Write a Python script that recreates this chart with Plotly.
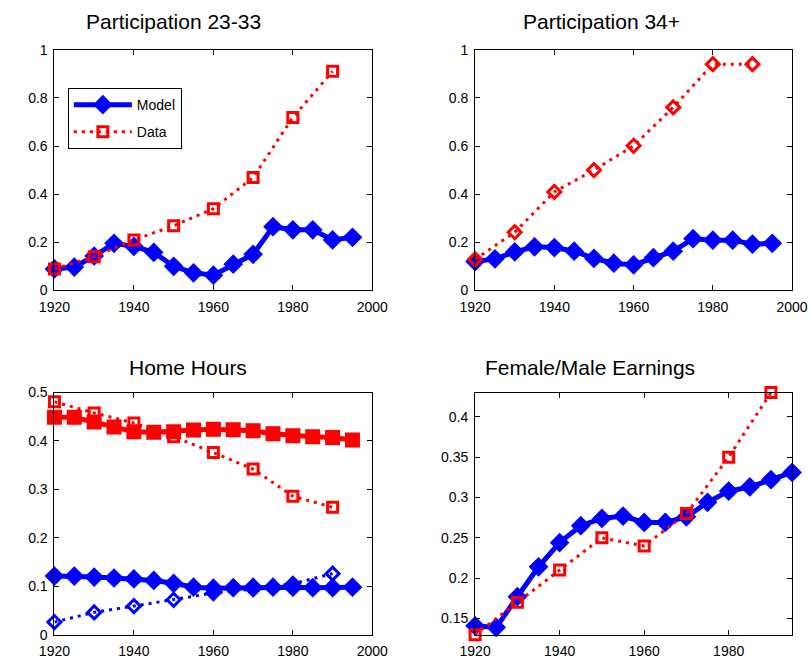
import plotly.graph_objects as go

# ---- data -------------------------------------------------------------
model_years = [1920, 1925, 1930, 1935, 1940, 1945, 1950, 1955,
               1960, 1965, 1970, 1975, 1980, 1985, 1990, 1995]
data_years = [1920, 1930, 1940, 1950, 1960, 1970, 1980, 1990]

# Participation 23-33
part_young_model = [0.088, 0.096, 0.142, 0.195, 0.182, 0.157, 0.099, 0.072,
                    0.062, 0.108, 0.149, 0.264, 0.251, 0.251, 0.209, 0.220]
part_young_data = [0.088, 0.139, 0.209, 0.268, 0.339, 0.469, 0.719, 0.911]

# Participation 34+
part_old_model = [0.119, 0.130, 0.159, 0.180, 0.177, 0.162, 0.132, 0.112,
                  0.105, 0.135, 0.162, 0.214, 0.208, 0.208, 0.191, 0.195]
part_old_data = [0.128, 0.241, 0.409, 0.500, 0.601, 0.761, 0.941, 0.941]

# Home hours (female = red, male = blue)
home_female_model = [0.449, 0.449, 0.439, 0.429, 0.419, 0.418, 0.419, 0.4225,
                     0.424, 0.423, 0.421, 0.415, 0.411, 0.409, 0.407, 0.402]
home_female_data = [0.481, 0.458, 0.437, 0.409, 0.376, 0.342, 0.286, 0.263]
home_male_model = [0.121, 0.121, 0.119, 0.117, 0.115, 0.112, 0.106, 0.098,
                   0.096, 0.097, 0.098, 0.098, 0.098, 0.097, 0.097, 0.098]
home_male_data = [0.026, 0.046, 0.059, 0.072, 0.086, 0.094, 0.105, 0.126]

# Female/Male earnings
earn_model = [0.141, 0.139, 0.177, 0.214, 0.244, 0.265, 0.274, 0.277,
              0.269, 0.269, 0.276, 0.294, 0.308, 0.313, 0.322, 0.331]
earn_data = [0.13, 0.17, 0.21, 0.25, 0.24, 0.28, 0.35, 0.43]

year_ticks = [1920, 1940, 1960, 1980, 2000]

# ---- styling ----------------------------------------------------------
FONT = "Liberation Sans Narrow, Liberation Sans, Arial, sans-serif"
BLUE = "#0000ff"
RED = "#ff0000"
DOT = "3px,5px"


def model_trace(x, y, color, symbol, xa, ya, show=False, name="Model"):
    return go.Scatter(
        x=x, y=y, mode="lines+markers", name=name, showlegend=show,
        legendgroup=name,
        line=dict(color=color, width=5),
        marker=dict(symbol=symbol, size=13, color=color,
                    line=dict(color=color, width=2)),
        xaxis=xa, yaxis=ya, cliponaxis=False,
    )


def data_trace(x, y, color, symbol, xa, ya, show=False, name="Data"):
    return go.Scatter(
        x=x, y=y, mode="lines+markers", name=name, showlegend=show,
        legendgroup=name,
        line=dict(color=color, width=3, dash=DOT),
        marker=dict(symbol=symbol, size=10, color=color,
                    line=dict(color=color, width=3)),
        xaxis=xa, yaxis=ya, cliponaxis=False,
    )


fig = go.Figure()

# Participation 23-33
fig.add_trace(model_trace(model_years, part_young_model, BLUE, "diamond",
                          "x", "y", show=True))
fig.add_trace(data_trace(data_years, part_young_data, RED, "square-open",
                         "x", "y", show=True))

# Participation 34+
fig.add_trace(model_trace(model_years, part_old_model, BLUE, "diamond", "x2", "y2"))
fig.add_trace(data_trace(data_years, part_old_data, RED, "diamond-open", "x2", "y2"))

# Home hours
fig.add_trace(data_trace(data_years, home_male_data, BLUE, "diamond-open", "x3", "y3"))
fig.add_trace(data_trace(data_years, home_female_data, RED, "square-open", "x3", "y3"))
fig.add_trace(model_trace(model_years, home_female_model, RED, "square", "x3", "y3"))
fig.add_trace(model_trace(model_years, home_male_model, BLUE, "diamond", "x3", "y3"))

# Female/Male earnings
fig.add_trace(model_trace(model_years, earn_model, BLUE, "diamond", "x4", "y4"))
fig.add_trace(data_trace(data_years, earn_data, RED, "square-open", "x4", "y4"))

W, H = 810, 669


def xdom(left, right):
    return [left / W, right / W]


def ydom(top, bottom):
    return [1 - bottom / H, 1 - top / H]


axis_common = dict(
    showline=True, linecolor="black", linewidth=1, mirror="ticks",
    ticks="inside", ticklen=5, tickcolor="black", tickwidth=1,
    showgrid=False, zeroline=False,
    tickfont=dict(family=FONT, size=14, color="black"),
)
x_common = dict(ticklabelstandoff=4, **axis_common)
y_common = dict(ticklabelstandoff=3, **axis_common)

left_x, right_x = xdom(40, 371), xdom(478, 808)
top_y, bot_y = ydom(43, 289), ydom(394, 642)

fig.update_layout(
    width=W, height=H,
    margin=dict(l=0, r=0, t=0, b=0),
    paper_bgcolor="white", plot_bgcolor="white",
    font=dict(family=FONT, color="black"),
    xaxis=dict(domain=left_x, anchor="y", range=[1920, 2000],
               tickvals=year_ticks, **x_common),
    yaxis=dict(domain=top_y, anchor="x", range=[0, 1],
               tickvals=[0, 0.2, 0.4, 0.6, 0.8, 1], **y_common),
    xaxis2=dict(domain=right_x, anchor="y2", range=[1920, 2000],
                tickvals=year_ticks, **x_common),
    yaxis2=dict(domain=top_y, anchor="x2", range=[0, 1],
                tickvals=[0, 0.2, 0.4, 0.6, 0.8, 1], **y_common),
    xaxis3=dict(domain=left_x, anchor="y3", range=[1920, 2000],
                tickvals=year_ticks, **x_common),
    yaxis3=dict(domain=bot_y, anchor="x3", range=[0, 0.5],
                tickvals=[0, 0.1, 0.2, 0.3, 0.4, 0.5], **y_common),
    xaxis4=dict(domain=right_x, anchor="y4", range=[1920, 1995],
                tickvals=year_ticks, **x_common),
    yaxis4=dict(domain=bot_y, anchor="x4", range=[0.13, 0.43],
                tickvals=[0.15, 0.2, 0.25, 0.3, 0.35, 0.4], **y_common),
    legend=dict(
        x=54 / W, y=1 - 82 / H, xanchor="left", yanchor="top",
        bgcolor="white", bordercolor="black", borderwidth=1,
        font=dict(family=FONT, size=14, color="black"),
        itemwidth=58, tracegroupgap=6,
    ),
)

titles = [
    ("Participation 23-33", 164, 14),
    ("Participation 34+", 610, 14),
    ("Home Hours", 179, 368),
    ("Female/Male Earnings", 598, 368),
]
for text, cx, cy in titles:
    fig.add_annotation(
        text=text, x=cx / W, y=1 - cy / H, xref="paper", yref="paper",
        xanchor="center", yanchor="middle", showarrow=False,
        font=dict(family=FONT, size=21, color="black"),
    )

fig.write_html("out.html")
